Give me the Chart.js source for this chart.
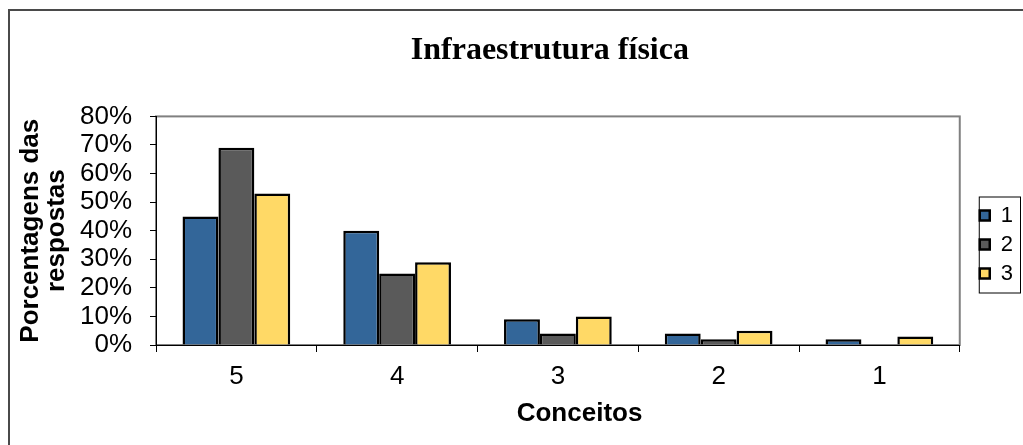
<!DOCTYPE html>
<html lang="pt">
<head>
    <meta charset="UTF-8" />
    <title>Infraestrutura física</title>
    <script src="https://cdn.jsdelivr.net/npm/chart.js"></script>
    <style>
        html, body { margin: 0; padding: 0; background: #fff; }
        .chart-container { position: relative; width: 1023px; height: 445px; }
    </style>
</head>
<body>
    <div class="chart-container">
        <canvas id="infraChart"></canvas>
    </div>

    <script>
        // dados (%)
        const conceitos = ['5', '4', '3', '2', '1'];
        const serie1 = [45, 40, 9, 4, 2];
        const serie2 = [69, 25, 4, 2, 0];
        const serie3 = [53, 29, 10, 5, 3];
        const nomesSeries = ['1', '2', '3'];
        const coresSeries = ['#336699', '#5a5a5a', '#ffd966'];

        Chart.defaults.font.family = "'Liberation Sans', Arial, sans-serif";
        Chart.defaults.color = '#000';

        // moldura externa + borda cinza da área do gráfico
        const frames = {
            id: 'frames',
            beforeDraw(chart) {
                const { ctx, chartArea: a } = chart;
                ctx.save();
                ctx.strokeStyle = '#4a4a4a';
                ctx.lineWidth = 2;
                ctx.strokeRect(9, 10, 1100, 1000);
                ctx.strokeStyle = '#808080';
                ctx.lineWidth = 2;
                ctx.strokeRect(a.left, a.top, a.right - a.left, a.bottom - a.top);
                ctx.restore();
            }
        };

        // desloca a legenda e desenha a caixa em volta dela
        const legendBox = {
            id: 'legendBox',
            afterLayout(chart) {
                const lg = chart.legend;
                lg.left += 13; lg.right += 13;
                lg.top += 22; lg.bottom += 22;
            },
            afterDraw(chart) {
                const hb = chart.legend.legendHitBoxes;
                if (!hb || !hb.length) return;
                const ctx = chart.ctx;
                const x0 = hb[0].left - 1;
                const y0 = hb[0].top - 8;
                const y1 = hb[hb.length - 1].top + hb[hb.length - 1].height + 8;
                ctx.save();
                ctx.strokeStyle = '#000';
                ctx.lineWidth = 1;
                ctx.strokeRect(x0 + 0.5, y0 + 0.5, 1020 - x0, y1 - y0);
                ctx.restore();
            }
        };

        const datasets = [serie1, serie2, serie3].map((vals, i) => ({
            label: nomesSeries[i],
            data: vals,
            backgroundColor: coresSeries[i],
            borderColor: '#000',
            borderWidth: 2.5,
            barPercentage: 1,
            categoryPercentage: 0.67
        }));

        new Chart(document.getElementById('infraChart'), {
            type: 'bar',
            data: { labels: conceitos, datasets: datasets },
            plugins: [frames, legendBox],
            options: {
                responsive: true,
                maintainAspectRatio: false,
                animation: false,
                layout: { padding: { left: 0, right: 13, top: 0, bottom: 0 } },
                scales: {
                    x: {
                        grid: { drawOnChartArea: false, color: '#000', tickLength: 7 },
                        border: { color: '#000', width: 1 },
                        ticks: { font: { size: 26 }, padding: 9 },
                        title: {
                            display: true,
                            // espaços à esquerda: no original o título fica um pouco à direita do centro
                            text: '      Conceitos',
                            font: { size: 26, weight: 'bold' },
                            padding: { top: 0, bottom: 16 }
                        },
                        afterFit(scale) { scale.height = 100; }
                    },
                    y: {
                        min: 0,
                        max: 80,
                        grid: { drawOnChartArea: false, color: '#000', tickLength: 6 },
                        border: { color: '#000', width: 1 },
                        ticks: {
                            stepSize: 10,
                            autoSkip: false,
                            padding: 18,
                            font: { size: 26 },
                            callback: v => v + '%'
                        },
                        title: {
                            display: true,
                            text: ['Porcentagens das', 'respostas'],
                            font: { size: 26, weight: 'bold', lineHeight: 1 },
                            padding: { top: 18, bottom: 0 }
                        },
                        afterFit(scale) { scale.width = 156; }
                    }
                },
                plugins: {
                    title: {
                        display: true,
                        text: 'Infraestrutura física  ',
                        fullSize: false,
                        color: '#000',
                        font: { family: "'Liberation Serif', 'Times New Roman', serif", size: 32, weight: 'bold' },
                        padding: { top: 32, bottom: 46 }
                    },
                    legend: {
                        position: 'right',
                        labels: {
                            boxWidth: 10,
                            boxHeight: 10,
                            padding: 7,
                            font: { size: 22 }
                        }
                    },
                    tooltip: { enabled: false }
                }
            }
        });
    </script>
</body>
</html>
